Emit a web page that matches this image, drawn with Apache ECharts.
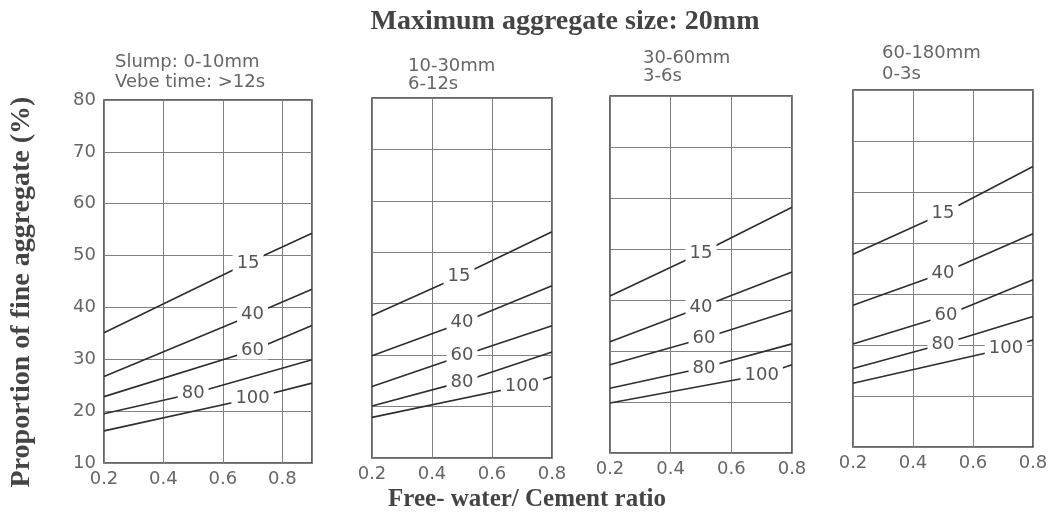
<!DOCTYPE html>
<html>
<head>
<meta charset="utf-8">
<script src="https://cdn.jsdelivr.net/npm/echarts@6/dist/echarts.min.js"></script>
<style>
html, body { margin: 0; background: #fff; }
#main { width: 1064px; height: 524px; }
</style>
</head>
<body>
<div id="main"></div>
<script>
// water/cement ratio curves (free-water content labels)
var curveNames = ['15', '40', '60', '80', '100'];
var panelXMax = [0.9, 0.8, 0.8, 0.8];
var panelHead1 = ['Slump: 0-10mm', '10-30mm', '30-60mm', '60-180mm'];
var panelHead2 = ['Vebe time: >12s', '6-12s', '3-6s', '0-3s'];

// panel 1 : slump 0-10mm
var p1Start  = [35.1, 26.7, 22.8, 19.5, 16.2];
var p1LabelX = [0.685, 0.70, 0.70, 0.50, 0.70];
var p1LabelY = [48.6, 38.6, 31.7, 23.4, 22.5];
var p1End    = [54.3, 43.5, 36.5, 29.9, 25.4];

// panel 2 : slump 10-30mm
var p2Start  = [37.7, 29.9, 23.9, 20.1, 17.9];
var p2LabelX = [0.49, 0.50, 0.50, 0.50, 0.70];
var p2LabelY = [45.3, 36.3, 29.9, 24.8, 24.0];
var p2End    = [54.0, 43.5, 35.7, 30.6, 25.8];

// panel 3 : slump 30-60mm
var p3Start  = [40.8, 31.8, 27.3, 22.7, 19.8];
var p3LabelX = [0.50, 0.50, 0.51, 0.51, 0.70];
var p3LabelY = [49.2, 38.6, 32.5, 26.7, 25.3];
var p3End    = [58.2, 45.5, 38.0, 31.4, 27.3];

// panel 4 : slump 60-180mm
var p4Start  = [47.8, 37.8, 30.2, 25.4, 22.5];
var p4LabelX = [0.50, 0.50, 0.51, 0.50, 0.71];
var p4LabelY = [55.8, 44.1, 35.8, 30.2, 29.3];
var p4End    = [65.0, 51.8, 42.8, 35.6, 31.0];

var grids = [
    {left: 104, top: 100, width: 208, height: 363},
    {left: 372, top: 98, width: 180, height: 360},
    {left: 610, top: 96, width: 182, height: 357},
    {left: 853, top: 90, width: 180, height: 357}
];

var labelFont = '"DejaVu Sans", sans-serif';
var serifFont = '"Liberation Serif", "DejaVu Serif", serif';

function makeSeries(panel, start, labelX, labelY, end) {
    return curveNames.map(function (name, i) {
        return {
            type: 'line',
            name: name,
            xAxisIndex: panel,
            yAxisIndex: panel,
            symbol: 'circle',
            symbolSize: 0,
            showSymbol: true,
            silent: true,
            animation: false,
            lineStyle: {color: '#2e2e2e', width: 1.6},
            itemStyle: {color: '#2e2e2e'},
            data: [
                [0.2, start[i]],
                {
                    value: [labelX[i], labelY[i]],
                    label: {
                        show: true,
                        position: 'inside',
                        formatter: name,
                        color: '#555',
                        fontSize: 18,
                        fontFamily: labelFont,
                        backgroundColor: '#fff',
                        padding: [0, 4]
                    }
                },
                [panelXMax[panel], end[i]]
            ]
        };
    });
}

var chart = echarts.init(document.getElementById('main'));

var option = {
    backgroundColor: '#fff',
    animation: false,
    grid: grids.map(function (g) {
        return {
            left: g.left, top: g.top, width: g.width, height: g.height,
            show: true, borderColor: '#333', borderWidth: 1.5
        };
    }),
    xAxis: grids.map(function (g, i) {
        return {
            type: 'value',
            gridIndex: i,
            min: 0.2,
            max: panelXMax[i],
            interval: 0.2,
            axisLine: {show: false},
            axisTick: {show: false},
            splitLine: {show: true, lineStyle: {color: '#808080', width: 1}},
            axisLabel: {
                color: '#666',
                fontSize: 18,
                fontFamily: labelFont,
                margin: 7,
                formatter: function (v) { return v > 0.85 ? '' : v.toFixed(1); }
            }
        };
    }),
    yAxis: grids.map(function (g, i) {
        return {
            type: 'value',
            gridIndex: i,
            min: 10,
            max: 80,
            interval: 10,
            axisLine: {show: false},
            axisTick: {show: false},
            splitLine: {show: true, lineStyle: {color: '#808080', width: 1}},
            axisLabel: {
                show: i === 0,
                color: '#666',
                fontSize: 18,
                fontFamily: labelFont,
                margin: 8
            }
        };
    }),
    series: [].concat(
        makeSeries(0, p1Start, p1LabelX, p1LabelY, p1End),
        makeSeries(1, p2Start, p2LabelX, p2LabelY, p2End),
        makeSeries(2, p3Start, p3LabelX, p3LabelY, p3End),
        makeSeries(3, p4Start, p4LabelX, p4LabelY, p4End)
    ),
    graphic: []
};

// headings
option.graphic.push({
    type: 'text', x: 565, y: 22, silent: true,
    style: {text: 'Maximum aggregate size: 20mm', align: 'center', verticalAlign: 'middle',
        font: 'bold 28px ' + serifFont, fill: '#444'}
});
option.graphic.push({
    type: 'text', x: 22, y: 292, rotation: Math.PI / 2, silent: true,
    style: {text: 'Proportion of fine aggregate (%)', align: 'center', verticalAlign: 'middle',
        font: 'bold 28px ' + serifFont, fill: '#444'}
});
option.graphic.push({
    type: 'text', x: 527, y: 500, silent: true,
    style: {text: 'Free- water/ Cement ratio', align: 'center', verticalAlign: 'middle',
        font: 'bold 25px ' + serifFont, fill: '#444'}
});

// panel headings (slump / vebe time)
var headX = [115, 408, 643, 882];
var headY1 = [62, 66, 58, 53];
var headY2 = [82, 84, 76, 74];
headX.forEach(function (x, i) {
    option.graphic.push({
        type: 'text', x: x, y: headY1[i], silent: true,
        style: {text: panelHead1[i], align: 'left', verticalAlign: 'middle',
            font: '18px ' + labelFont, fill: '#666'}
    });
    option.graphic.push({
        type: 'text', x: x, y: headY2[i], silent: true,
        style: {text: panelHead2[i], align: 'left', verticalAlign: 'middle',
            font: '18px ' + labelFont, fill: '#666'}
    });
});

chart.setOption(option);
</script>
</body>
</html>
